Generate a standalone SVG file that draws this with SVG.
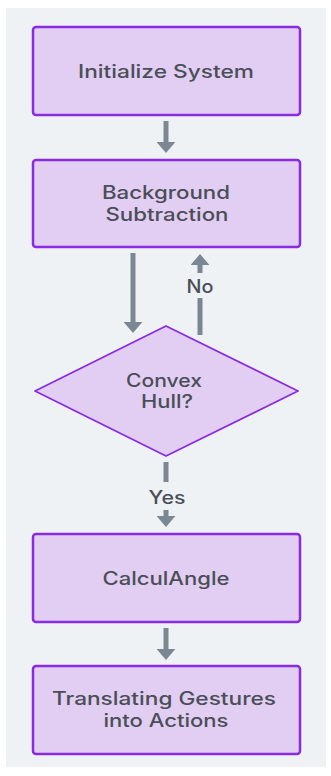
<svg xmlns="http://www.w3.org/2000/svg" width="331" height="776" viewBox="0 0 331 776">
<defs>
<style>
.box{fill:#e2cef3;stroke:#8a2be2;stroke-width:2.5}
.dia{fill:#e2cef3;stroke:#8a2be2;stroke-width:1.8}
.t{font-family:Inter,"Noto Sans",sans-serif;font-size:18px;fill:#4a4f57;text-anchor:middle;font-weight:500}
.e{stroke:#7b8894;stroke-width:5;fill:none}
</style>
<marker id="ah" viewBox="0 0 10 10" refX="1" refY="5" markerWidth="2.2" markerHeight="3.8" markerUnits="strokeWidth" orient="auto" preserveAspectRatio="none">
<path d="M0,0 L10,5 L0,10 z" fill="#7b8894"/>
</marker>
</defs>
<rect x="6" y="8" width="320" height="759" fill="#eef2f5"/>
<g id="connectors">
<line class="e" x1="166" y1="121" x2="166" y2="143" marker-end="url(#ah)"/>
<line class="e" x1="133" y1="253" x2="133" y2="323" marker-end="url(#ah)"/>
<line class="e" x1="200" y1="335" x2="200" y2="298"/>
<line class="e" x1="200" y1="273" x2="200" y2="264" marker-end="url(#ah)"/>
<text class="t" x="200" y="293" textLength="27" lengthAdjust="spacingAndGlyphs">No</text>
<line class="e" x1="166" y1="462" x2="166" y2="482"/>
<line class="e" x1="166" y1="510" x2="166" y2="517" marker-end="url(#ah)"/>
<text class="t" x="167" y="504" textLength="37" lengthAdjust="spacingAndGlyphs">Yes</text>
<line class="e" x1="166" y1="628" x2="166" y2="650" marker-end="url(#ah)"/>
</g>
<g id="n1">
<rect class="box" x="33" y="27" width="267" height="88" rx="3"/>
<text class="t" x="166" y="78" textLength="176" lengthAdjust="spacingAndGlyphs">Initialize System</text>
</g>
<g id="n2">
<rect class="box" x="33" y="160" width="267" height="87" rx="3"/>
<text class="t" x="166" y="199" textLength="128" lengthAdjust="spacingAndGlyphs">Background</text>
<text class="t" x="167" y="221" textLength="123" lengthAdjust="spacingAndGlyphs">Subtraction</text>
</g>
<g id="n3">
<path class="dia" d="M166,326 L298,391 L166,456 L35,391 Z" stroke-linejoin="round"/>
<text class="t" x="164" y="387" textLength="76" lengthAdjust="spacingAndGlyphs">Convex</text>
<text class="t" x="167" y="408" textLength="52" lengthAdjust="spacingAndGlyphs">Hull?</text>
</g>
<g id="n4">
<rect class="box" x="33" y="534" width="267" height="88" rx="3"/>
<text class="t" x="166" y="585" textLength="127" lengthAdjust="spacingAndGlyphs">CalculAngle</text>
</g>
<g id="n5">
<rect class="box" x="33" y="666" width="267" height="88" rx="3"/>
<text class="t" x="164" y="705" textLength="224" lengthAdjust="spacingAndGlyphs">Translating Gestures</text>
<text class="t" x="166" y="727" textLength="125" lengthAdjust="spacingAndGlyphs">into Actions</text>
</g>
</svg>
